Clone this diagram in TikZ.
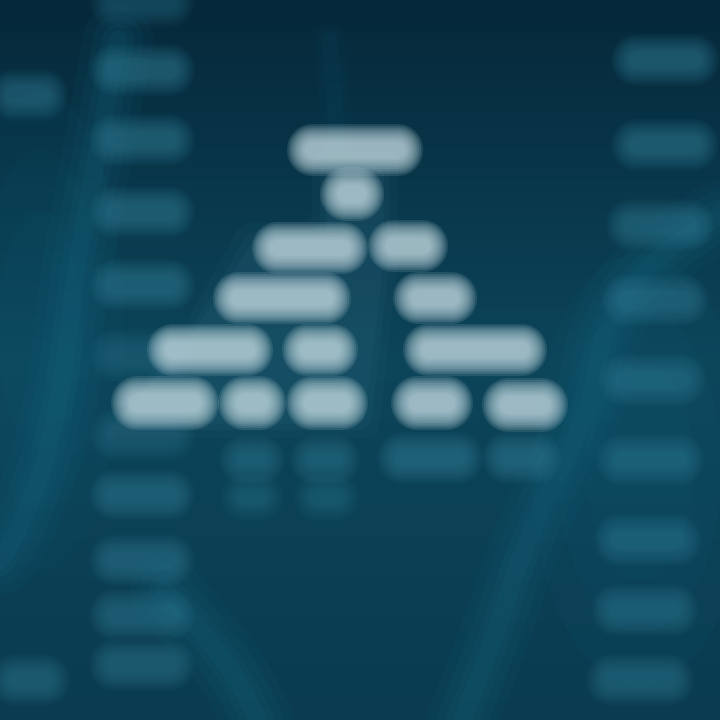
\documentclass[tikz,border=0pt]{standalone}
\definecolor{bgtop}{HTML}{05283A}
\definecolor{bgmid}{HTML}{0C4459}
\definecolor{bgbot}{HTML}{0A3B50}
\definecolor{barhi}{HTML}{C6DDE4}
\definecolor{barside}{HTML}{3A879F}
\definecolor{wave}{HTML}{1A7893}
\definecolor{haze}{HTML}{4A8AA0}
\newcommand{\glowbar}[6]{% color, cx, cy, w, h, layer opacity
  \foreach \k in {10,9,...,0}{%
    \pgfmathsetmacro{\ex}{\k*1.8}%
    \pgfmathsetmacro{\rr}{#5/2+\ex-0.5}%
    \fill[#1, opacity=#6, rounded corners=\rr pt]
      ({#2-#4/2-\ex},{#3-#5/2-\ex}) rectangle ({#2+#4/2+\ex},{#3+#5/2+\ex});
  }%
}
\begin{document}
\begin{tikzpicture}[x=1pt,y=-1pt]
\useasboundingbox (0,0) rectangle (720,720);
% background
\shade[top color=bgtop, bottom color=bgbot, middle color=bgmid] (0,0) rectangle (720,720);
\fill[bgtop, opacity=0.4] (0,0) rectangle (720,25);
% soft lighter areas
\foreach \r/\o in {120/0.05,90/0.05,60/0.05}{
  \fill[wave, opacity=\o] (40,330) ellipse ({\r*0.7} and {\r*2});
  \fill[wave, opacity=\o] (640,470) ellipse ({\r*0.9} and {\r*1.8});
}
% waves
\foreach \w/\o in {70/0.06,50/0.07,32/0.08,18/0.09}{
  \draw[wave, line width=\w pt, opacity=\o, line cap=round]
    plot[smooth] coordinates {(118,40) (98,150) (78,260) (62,380) (45,460) (18,530) (0,560)};
  \draw[wave, line width=\w pt, opacity=\o, line cap=round]
    plot[smooth] coordinates {(720,215) (668,250) (626,292) (602,342) (590,400) (570,450) (545,500) (520,560) (500,620) (478,680) (462,720)};
  \draw[wave, line width=\w pt, opacity=\o, line cap=round]
    plot[smooth] coordinates {(165,590) (200,630) (232,672) (258,720)};
}
\foreach \w/\o in {30/0.04,16/0.05}{
  \draw[wave, line width=\w pt, opacity=\o, line cap=round]
    plot[smooth] coordinates {(330,40) (335,110) (338,150)};
}
% haze behind the tree
\foreach \e/\o in {18/0.05,10/0.06,4/0.07}{
  \fill[haze, opacity=\o, rounded corners=10pt]
    ({330-\e},{170-\e}) -- ({380+\e},{170-\e}) -- ({380+\e},{260}) -- ({360+\e},{420+\e}) -- ({120-\e},{420+\e}) -- ({200-\e},{330}) -- ({260-\e},{240-\e}) -- ({330-\e},{240-\e}) -- cycle;
}
% left column
\foreach \y/\o in {2/0.04,70/0.06,140/0.06,212/0.06,285/0.06,355/0.035,435/0.035,495/0.055,560/0.055,615/0.05,665/0.05}{
  \glowbar{barside}{142}{\y}{70}{16}{\o}
}
\glowbar{barside}{28}{95}{44}{16}{0.055}
\glowbar{barside}{30}{680}{44}{16}{0.05}
% right column
\foreach \y/\x/\o in {60/665/0.06,145/665/0.06,225/660/0.055,300/655/0.055,380/652/0.05,460/650/0.05,540/648/0.05,610/645/0.05,680/640/0.05}{
  \glowbar{barside}{\x}{\y}{72}{16}{\o}
}
% faint lower rows
\glowbar{barside}{430}{458}{70}{16}{0.06}
\glowbar{barside}{522}{458}{44}{16}{0.06}
\glowbar{barside}{252}{460}{30}{14}{0.05}
\glowbar{barside}{325}{460}{34}{14}{0.05}
\glowbar{barside}{252}{498}{28}{12}{0.04}
\glowbar{barside}{327}{498}{30}{12}{0.04}
% tree bars
\glowbar{barhi}{355}{150}{100}{16}{0.13}
\glowbar{barhi}{352}{194}{28}{18}{0.13}
\glowbar{barhi}{310}{248}{80}{16}{0.13}
\glowbar{barhi}{408}{246}{44}{16}{0.13}
\glowbar{barhi}{282}{298}{102}{16}{0.13}
\glowbar{barhi}{435}{298}{48}{16}{0.13}
\glowbar{barhi}{210}{350}{90}{16}{0.13}
\glowbar{barhi}{320}{350}{40}{16}{0.13}
\glowbar{barhi}{475}{350}{108}{16}{0.13}
\glowbar{barhi}{165}{403}{72}{18}{0.13}
\glowbar{barhi}{252}{403}{32}{18}{0.13}
\glowbar{barhi}{327}{403}{46}{18}{0.13}
\glowbar{barhi}{432}{403}{46}{18}{0.13}
\glowbar{barhi}{525}{405}{50}{18}{0.13}
\end{tikzpicture}
\end{document}
